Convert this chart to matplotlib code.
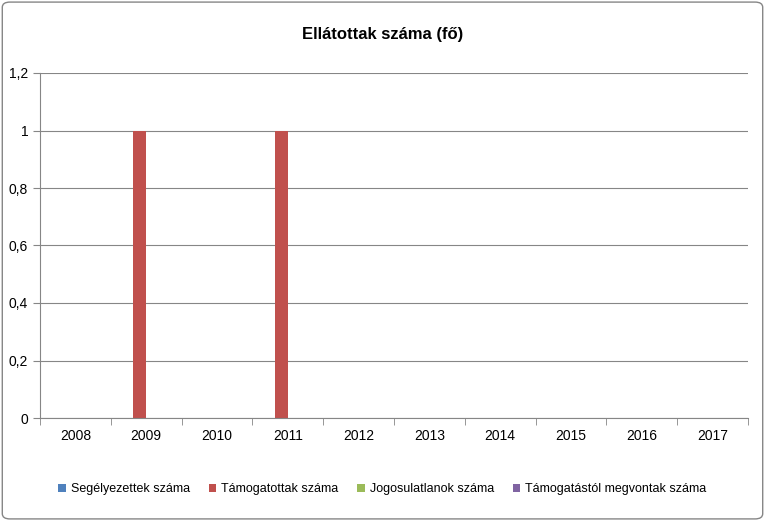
import matplotlib
matplotlib.use('Agg')
import matplotlib.pyplot as plt
from matplotlib.patches import FancyBboxPatch
import numpy as np

plt.rcParams['font.family'] = ['Liberation Sans Narrow', 'Liberation Sans', 'DejaVu Sans']

years = ['2008', '2009', '2010', '2011', '2012', '2013', '2014', '2015', '2016', '2017']
segelyezettek = [0, 0, 0, 0, 0, 0, 0, 0, 0, 0]
tamogatottak = [0, 1, 0, 1, 0, 0, 0, 0, 0, 0]
jogosulatlanok = [0, 0, 0, 0, 0, 0, 0, 0, 0, 0]
megvontak = [0, 0, 0, 0, 0, 0, 0, 0, 0, 0]

series = [
    ('Segélyezettek száma', segelyezettek, '#4F81BD'),
    ('Támogatottak száma', tamogatottak, '#C0504D'),
    ('Jogosulatlanok száma', jogosulatlanok, '#9BBB59'),
    ('Támogatástól megvontak száma', megvontak, '#8064A2'),
]

fig = plt.figure(figsize=(7.65, 5.21), dpi=100)
ax = fig.add_axes([40/765, 1 - 418/521, 708/765, 345/521])

x = np.arange(len(years))
w = 0.18
for i, (name, vals, col) in enumerate(series):
    ax.bar(x + (i - 1.5) * w, vals, w, color=col, label=name)

ax.set_xlim(-0.5, len(years) - 0.5)
ax.set_ylim(0, 1.2)
ax.set_yticks(np.arange(0, 1.21, 0.2))
ax.set_yticklabels(['0', '0,2', '0,4', '0,6', '0,8', '1', '1,2'], fontsize=10)
ax.set_xticks(x)
ax.set_xticklabels(years, fontsize=10)
ax.set_xticks(np.arange(-0.5, len(years), 1), minor=True)
ax.tick_params(axis='x', which='major', length=0, pad=8)
ax.tick_params(axis='x', which='minor', length=5, color='#868686')
ax.tick_params(axis='y', length=5, color='#868686')
ax.grid(axis='y', color='#868686', linewidth=0.8)
ax.set_axisbelow(True)
for s in ['top', 'right']:
    ax.spines[s].set_visible(False)
for s in ['left', 'bottom']:
    ax.spines[s].set_color('#868686')

fig.text(0.5, 1 - 35/521, 'Ellátottak száma (fő)', ha='center', va='center',
         fontsize=12, fontweight='bold')
fig.legend(loc='center', bbox_to_anchor=(0.5, 1 - 489/521), ncol=4, frameon=False,
           fontsize=9, handlelength=0.6, handleheight=0.6, columnspacing=1.5,
           handletextpad=0.4)

fig.patches.append(FancyBboxPatch((0.003, 0.004), 0.994, 0.992, boxstyle='round,pad=0,rounding_size=0.01',
                                  transform=fig.transFigure, fill=False, edgecolor='#868686', linewidth=1))

fig.savefig('out.png', dpi=100)
